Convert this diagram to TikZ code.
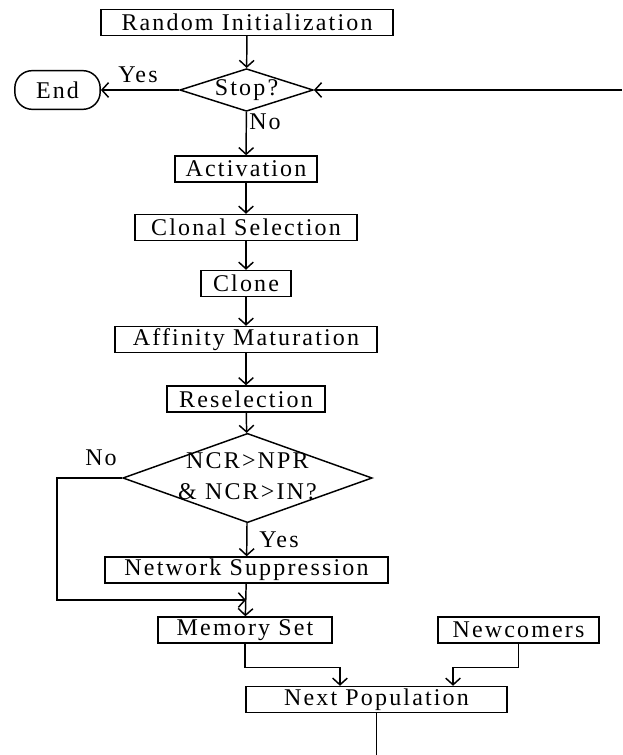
\documentclass[tikz,border=0pt]{standalone}
\usepackage{fontspec}
\setmainfont{Liberation Serif}[LetterSpace=9]
\usetikzlibrary{shapes.geometric}
\usetikzlibrary{arrows.meta}

\begin{document}
\begin{tikzpicture}[x=0.75pt, y=-0.75pt,
every node/.style={font=\fontsize{18}{22}\selectfont},
box/.style={draw, line width=1.1pt, inner sep=0pt, minimum height=19.5pt},
cond/.style={draw, diamond, line width=1.1pt, inner sep=0pt},
flow/.style={line width=1.1pt, -{Straight Barb[length=5pt,width=11pt]}},
link/.style={line width=1.1pt}]

\useasboundingbox (0,0) rectangle (622,755);

% boxes
{
\node[box, minimum width=219pt] (init) at (247,22.5) {Random Initialization};

\node[cond, minimum width=100pt, minimum height=32pt] (stop) at (246.5,90) {\makebox[0pt]{\raisebox{1pt}{Stop?}}};

\node[box, rounded corners=13pt, minimum width=64pt, minimum height=29pt] (end) at (57.5,90) {End};

\node[box, minimum width=106.5pt] (act) at (246,169) {Activation};
\node[box, minimum width=166.5pt] (clonal) at (246,227.5) {Clonal Selection};
\node[box, minimum width=67.5pt] (clone) at (246,283.5) {Clone};
\node[box, minimum width=196.5pt] (affin) at (246,339.5) {Affinity Maturation};
\node[box, minimum width=118.5pt] (resel) at (246,399) {Reselection};

\node[cond, minimum width=187pt, minimum height=67pt] (check) at (247.5,478)
{\makebox[0pt]{\begin{tabular}{@{}c@{}}NCR>NPR\\[1pt]\& NCR>IN?\end{tabular}}};

\node[box, minimum width=212pt] (supp) at (246.5,570) {Network Suppression};
\node[box, minimum width=130.5pt] (memset) at (245,630) {Memory Set};
\node[box, minimum width=121pt] (newcom) at (518.5,630) {Newcomers};
\node[box, minimum width=196pt] (nextpop) at (376.5,699.5) {Next Population};
}

% labels
{
\node (yesstop) at (138,75) {Yes};
\node (nostop) at (265,122) {No};
\node (nocheck) at (101,458) {No};
\node (yescheck) at (279,540) {Yes};
}

% free ends
\coordinate (back) at (622,90);
\coordinate (turn) at (57,600);
\coordinate (join) at (246,600);
\coordinate (out) at (376.5,755);

% connectors
{
\draw[flow] (init) -- (stop);
\draw[flow] (stop.west) -- (end.east);
\draw[flow] (back) -- (stop.east);
\draw[flow] (stop) -- (act);
\draw[flow] (act) -- (clonal);
\draw[flow] (clonal) -- (clone);
\draw[flow] (clone) -- (affin);
\draw[flow] (affin) -- (resel);
\draw[flow] (resel) -- (check);
\draw[flow] (check) -- (supp);
\draw[flow] (check.west) -| (turn) -- (join);
\draw[flow] (supp) -- (memset);
\draw[flow] (memset.south) -- ++(0,24) -| ([xshift=-27.4pt]nextpop.north);
\draw[flow] (newcom.south) -- ++(0,24) -| ([xshift=57.4pt]nextpop.north);
\draw[link] (nextpop) -- (out);
}

\end{tikzpicture}
\end{document}
